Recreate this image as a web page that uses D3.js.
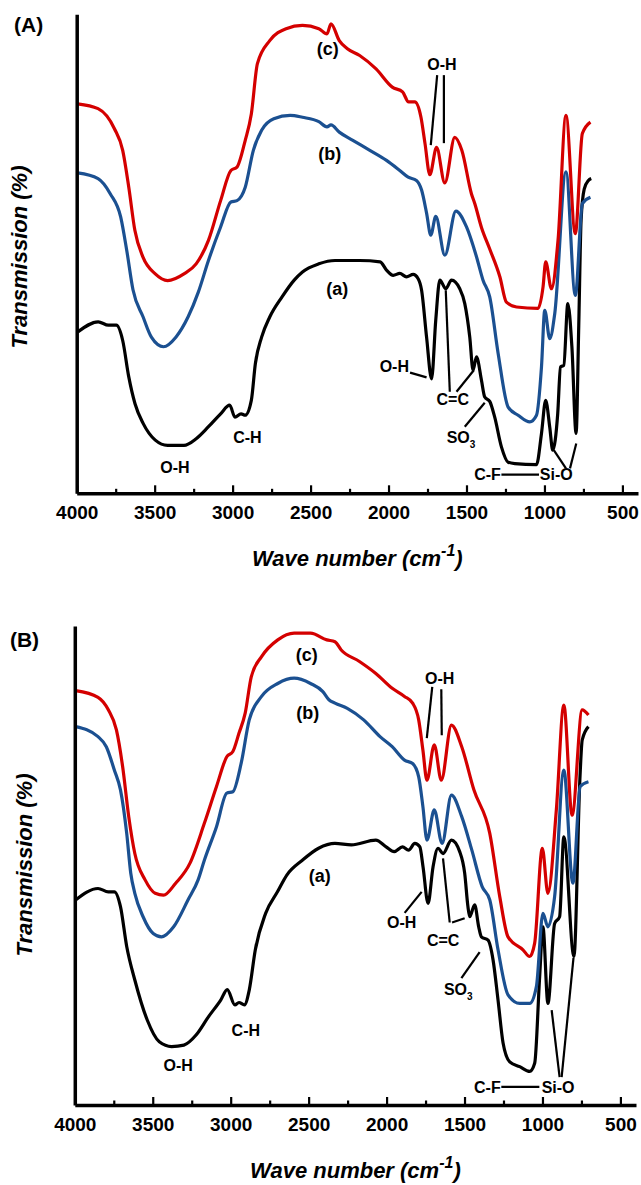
<!DOCTYPE html>
<html>
<head>
<meta charset="utf-8">
<script src="https://cdn.jsdelivr.net/npm/d3@7/dist/d3.min.js"></script>
<style>
    body { margin: 0; background: #fff; }
    svg { display: block; }
    text { font-family: "Liberation Sans", Arial, sans-serif; }
</style>
</head>
<body>
<div id="chart"></div>
<script>
// x axis ticks (cm-1)
const majorTicks = [4000, 3500, 3000, 2500, 2000, 1500, 1000, 500];
const minorTicks = [3750, 3250, 2750, 2250, 1750, 1250, 750];

// spectra: [wave number, transmission (arb.)]
const specA_a = [[3993,33.7],[3862,35.8],[3797,35.1],[3745,35.1],[3705,31.9],[3666,24.3],[3626,18.7],[3574,14.6],[3496,11.1],[3417,10.0],[3312,10.0],[3234,11.4],[3155,13.9],[3077,16.6],[3019,18.4],[2985,15.9],[2946,16.6],[2919,16.3],[2880,19.4],[2854,27.1],[2814,32.6],[2762,36.8],[2683,41.0],[2605,44.5],[2552,46.2],[2447,47.9],[2343,48.6],[2185,48.6],[2054,48.3],[2013,46.6],[1970,45.5],[1928,45.9],[1885,45.2],[1842,45.7],[1810,44.8],[1788,42.4],[1756,32.6],[1724,23.9],[1697,36.2],[1671,44.5],[1633,42.7],[1596,44.5],[1543,42.7],[1511,39.6],[1479,32.6],[1458,25.7],[1436,28.5],[1404,23.6],[1383,20.1],[1351,19.2],[1319,15.9],[1276,9.7],[1233,6.5],[1190,6.2],[1051,6.0],[1019,12.5],[992,19.4],[966,13.8],[947,9.0],[915,16.6],[897,26.4],[876,26.7],[850,39.6],[824,30.6],[797,12.5],[780,35.0],[765,57.0],[745,63.5],[718,65.3],[700,65.7]];
const specA_b = [[3994,66.9],[3863,65.7],[3784,62.5],[3718,57.7],[3679,50.7],[3639,42.5],[3574,36.8],[3521,32.6],[3443,30.6],[3364,32.6],[3286,36.8],[3220,42.0],[3155,48.6],[3077,55.6],[3011,60.8],[2972,61.1],[2919,63.9],[2867,71.6],[2814,75.8],[2736,78.2],[2631,78.9],[2552,78.5],[2447,77.6],[2395,76.5],[2369,76.9],[2316,75.4],[2229,73.7],[2120,71.6],[2013,69.5],[1928,67.4],[1874,66.0],[1821,65.3],[1788,63.3],[1756,58.5],[1729,53.9],[1697,57.8],[1639,49.7],[1568,58.9],[1500,55.6],[1436,49.4],[1394,44.5],[1351,41.0],[1297,29.2],[1233,18.0],[1169,16.3],[1094,14.9],[1051,16.3],[1019,26.4],[998,38.2],[966,32.3],[934,37.5],[862,67.1],[802,41.3],[757,60.5],[705,61.8]];
const specA_c = [[3994,81.3],[3863,80.3],[3758,76.1],[3705,71.6],[3666,63.9],[3627,54.9],[3575,49.3],[3496,45.8],[3417,44.4],[3312,45.8],[3234,47.9],[3155,52.8],[3077,61.1],[3011,67.4],[2972,68.1],[2919,73.7],[2880,79.2],[2841,89.7],[2762,94.5],[2657,97.0],[2552,97.7],[2447,97.0],[2395,95.9],[2369,98.0],[2316,94.5],[2264,92.8],[2185,91.4],[2080,88.6],[1976,84.8],[1910,83.8],[1871,81.7],[1831,81.7],[1792,78.5],[1766,73.0],[1735,66.5],[1692,72.2],[1639,64.8],[1575,74.3],[1530,71.6],[1468,62.5],[1447,60.5],[1404,55.5],[1351,51.0],[1286,45.2],[1244,39.9],[1179,38.9],[1041,38.6],[1009,43.1],[992,48.3],[955,42.7],[913,52.8],[862,78.9],[802,54.2],[757,75.1],[705,77.5]];

const specB_a = [[3995,42.8],[3851,45.2],[3785,44.5],[3746,44.5],[3707,41.4],[3667,33.1],[3615,26.1],[3536,17.8],[3458,13.2],[3379,12.2],[3300,12.5],[3222,14.6],[3143,18.4],[3064,21.9],[3022,24.1],[2973,20.9],[2947,21.4],[2912,20.9],[2881,24.0],[2842,32.4],[2776,40.0],[2700,44.5],[2640,48.0],[2540,51.1],[2436,53.6],[2331,54.6],[2226,54.3],[2069,55.3],[2003,53.9],[1951,52.9],[1898,53.9],[1859,53.2],[1819,54.6],[1787,53.9],[1766,49.7],[1734,42.1],[1702,49.7],[1670,53.6],[1638,52.5],[1584,55.3],[1531,52.9],[1499,48.4],[1478,41.4],[1467,39.3],[1435,41.8],[1409,37.2],[1392,35.1],[1349,34.4],[1317,30.3],[1285,21.9],[1253,13.0],[1210,9.0],[1146,8.0],[1082,7.0],[1050,8.7],[1018,26.8],[997,37.2],[965,21.2],[922,37.9],[890,39.3],[863,56.0],[798,31.0],[760,68.0],[745,76.2],[705,79.0]];
const specB_b = [[3995,79.0],[3851,76.9],[3798,74.8],[3746,69.9],[3707,65.8],[3667,56.7],[3641,48.4],[3615,44.2],[3562,39.3],[3497,35.8],[3444,35.1],[3366,37.2],[3274,42.8],[3209,47.0],[3169,51.1],[3091,58.1],[3025,65.1],[2986,65.4],[2933,71.3],[2881,80.4],[2802,85.3],[2698,88.0],[2593,89.1],[2488,88.0],[2409,86.3],[2370,84.6],[2331,83.9],[2252,82.8],[2147,80.4],[2042,76.9],[1964,74.8],[1885,72.0],[1833,71.3],[1794,68.5],[1767,62.3],[1741,55.3],[1694,61.6],[1644,54.6],[1584,64.7],[1518,60.2],[1453,53.2],[1387,45.6],[1338,42.8],[1285,32.4],[1221,23.0],[1146,21.2],[1082,21.2],[1039,24.7],[997,40.0],[965,37.2],[922,43.5],[863,69.9],[805,46.3],[758,66.5],[705,67.5]];
const specB_c = [[3995,86.5],[3851,85.1],[3785,82.5],[3733,78.3],[3693,70.6],[3654,60.2],[3615,52.5],[3549,47.0],[3484,44.2],[3431,43.8],[3353,46.3],[3261,50.5],[3169,58.8],[3091,66.5],[3025,72.7],[2986,73.8],[2947,77.6],[2907,81.8],[2868,89.4],[2802,93.6],[2698,97.1],[2593,98.5],[2488,98.5],[2383,97.1],[2331,96.7],[2291,95.0],[2174,92.6],[2069,90.1],[1964,87.0],[1885,85.3],[1833,83.9],[1794,80.4],[1767,74.1],[1741,67.8],[1694,75.2],[1649,67.8],[1584,79.3],[1518,74.8],[1440,65.8],[1338,56.7],[1274,43.5],[1221,35.1],[1125,32.4],[1082,31.0],[1050,33.8],[1001,53.6],[965,44.2],[911,61.6],[863,83.5],[810,60.5],[745,82.5],[705,81.4]];

// peak labels: [text, wave number, transmission, anchor]
const labelsA = [["(c)",2390,92.5,"middle"],["(b)",2377,70.6,"middle"],["(a)",2329,42.4,"middle"],
    ["O-H",1658,89.6,"middle"],["O-H",1963,26.5,"middle"],["C=C",1588,19.7,"middle"],["SO3",1535,11.7,"middle"],
    ["C-F",1280,3.9,"end"],["Si-O",1030,3.9,"start"],["C-H",2905,11.6,"middle"],["O-H",3370,5.4,"middle"]];
const labelsB = [["(c)",2512,93.7,"middle"],["(b)",2505,81.6,"middle"],["(a)",2428,47.6,"middle"],
    ["O-H",1659,89.1,"middle"],["O-H",1903,38.1,"middle"],["C=C",1637,34.4,"middle"],["SO3",1540,24.2,"middle"],
    ["C-F",1268,3.8,"end"],["Si-O",1005,3.8,"start"],["C-H",2903,15.7,"middle"],["O-H",3337,8.4,"middle"]];

// pointer lines from labels to bands
const pointersA = [[[1688,87.3],[1729,72.7]],[[1645,87.3],[1645,73.1]],[[1862,25.2],[1756,24.2]],
    [[1607,21.2],[1633,42.4]],[[1564,21.2],[1453,25.7]],[[1511,13.9],[1383,18.9]],
    [[1276,3.9],[1035,3.9]],[[862,5.2],[940,9.0]],[[836,5.2],[796,10.4]]];
const pointersB = [[[1707,87.3],[1742,76.6]],[[1649,86.8],[1646,77.2]],[[1884,40.1],[1775,44.5]],
    [[1595,38.1],[1638,51.5]],[[1580,38.1],[1499,39.0]],[[1520,26.5],[1403,31.9]],
    [[1264,3.8],[1020,3.8]],[[890,5.8],[941,19.8]],[[877,5.8],[801,30.7]]];

const colors = { a: "#000000", b: "#1b5091", c: "#d40000" };

const svg = d3.select("#chart")
    .append("svg")
    .attr("width", 641)
    .attr("height", 1185);

function drawPanel(p) {
    const g = svg.append("g");

    const x = d3.scaleLinear().domain([4000, 400]).range([p.x0, p.x1]);
    const y = d3.scaleLinear().domain([0, 100]).range([p.yBot, p.yTop]);

    const line = d3.line()
        .x(d => x(d[0]))
        .y(d => y(d[1]))
        .curve(d3.curveMonotoneX);

    // spectra
    [["a", p.a], ["b", p.b], ["c", p.c]].forEach(([k, data]) => {
        g.append("path")
            .datum(data)
            .attr("d", line)
            .attr("fill", "none")
            .attr("stroke", colors[k])
            .attr("stroke-width", 3.2)
            .attr("stroke-linejoin", "round");
    });

    // pointer lines
    g.selectAll(".ptr")
        .data(p.pointers)
        .enter()
        .append("line")
        .attr("x1", d => x(d[0][0]))
        .attr("y1", d => y(d[0][1]))
        .attr("x2", d => x(d[1][0]))
        .attr("y2", d => y(d[1][1]))
        .attr("stroke", "#000")
        .attr("stroke-width", 2.2);

    // labels
    p.labels.forEach(([t, wn, v, anchor]) => {
        const isCurve = t.startsWith("(");
        const txt = g.append("text")
            .attr("x", x(wn))
            .attr("y", y(v))
            .attr("dy", isCurve ? "0.27em" : "0.36em")
            .attr("text-anchor", anchor)
            .attr("font-size", isCurve ? 18 : 16)
            .attr("font-weight", "bold");
        if (t === "SO3") {
            txt.text("SO");
            txt.append("tspan").attr("font-size", 10).attr("dy", 5).text("3");
        } else {
            txt.text(t);
        }
    });

    // axes
    const xAxis = d3.axisBottom(x).tickValues(majorTicks).tickSizeInner(-8).tickSizeOuter(0).tickFormat(d3.format("d"));
    const xg = g.append("g")
        .attr("transform", `translate(0,${p.yBot})`)
        .call(xAxis);
    xg.select(".domain").attr("stroke-width", 3.5);
    xg.selectAll(".tick line").attr("stroke-width", 2.2);
    xg.selectAll(".tick text")
        .attr("y", 26)
        .attr("dy", 0)
        .attr("font-size", 19)
        .attr("font-weight", "bold")
        .attr("font-family", "Liberation Sans, Arial, sans-serif")
        .attr("fill", "#000");

    const xMinor = g.append("g")
        .attr("transform", `translate(0,${p.yBot})`)
        .call(d3.axisBottom(x).tickValues(minorTicks).tickSizeInner(-4.5).tickSizeOuter(0).tickFormat(""));
    xMinor.select(".domain").remove();
    xMinor.selectAll(".tick line").attr("stroke-width", 2.2);

    const yg = g.append("g")
        .attr("transform", `translate(${p.x0},0)`)
        .call(d3.axisLeft(y).tickValues([]).tickSizeOuter(0));
    yg.select(".domain").attr("stroke-width", 3.5);

    // axis titles
    const xt = g.append("text")
        .attr("x", (p.x0 + p.x1) / 2)
        .attr("y", p.xTitleY)
        .attr("text-anchor", "middle")
        .attr("font-size", 22)
        .attr("font-weight", "bold")
        .attr("font-style", "italic")
        .text("Wave number (cm");
    xt.append("tspan").attr("font-size", 16).attr("dy", -10).text("-1");
    xt.append("tspan").attr("dy", 10).text(")");

    g.append("text")
        .attr("transform", `translate(${p.yLabelX},${p.yLabelY}) rotate(-90)`)
        .attr("dy", "0.27em")
        .attr("text-anchor", "middle")
        .attr("font-size", 22)
        .attr("font-weight", "bold")
        .attr("font-style", "italic")
        .text("Transmission (%)");

    g.append("text")
        .attr("x", p.tagX)
        .attr("y", p.tagY)
        .attr("dy", "0.27em")
        .attr("text-anchor", "middle")
        .attr("font-size", 21)
        .attr("font-weight", "bold")
        .text(p.tag);
}

drawPanel({ tag: "(A)", a: specA_a, b: specA_b, c: specA_c, labels: labelsA, pointers: pointersA,
    x0: 76.7, x1: 638, yTop: 14.3, yBot: 493.3, xTitleY: 566, yLabelX: 21.5, yLabelY: 257, tagX: 28.6, tagY: 26.5 });
drawPanel({ tag: "(B)", a: specB_a, b: specB_b, c: specB_c, labels: labelsB, pointers: pointersB,
    x0: 74.8, x1: 636, yTop: 626, yBot: 1105, xTitleY: 1178, yLabelX: 26, yLabelY: 865, tagX: 24.5, tagY: 641.7 });
</script>
</body>
</html>
